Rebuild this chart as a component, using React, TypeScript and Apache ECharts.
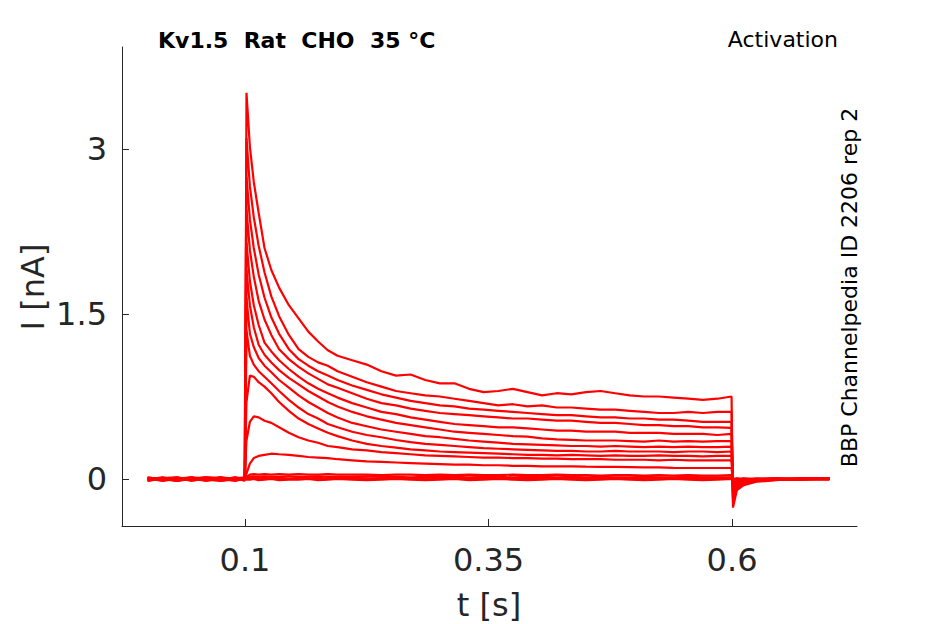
import React, { useEffect, useRef } from "react";
import * as echarts from "echarts";

// time grid [s]: pre-pulse, step (0.1-0.6 s), tail
const times = [
  0, 0.015, 0.03, 0.045, 0.06, 0.075, 0.09, 0.0995,
  0.1, 0.1015, 0.105, 0.109, 0.114, 0.12, 0.127, 0.135, 0.145, 0.155, 0.165, 0.175, 0.185, 0.195, 0.21, 0.225, 0.24, 0.255, 0.27, 0.285,
  0.3, 0.315, 0.33, 0.345, 0.36, 0.375, 0.39, 0.405, 0.42, 0.435, 0.45, 0.465, 0.48, 0.495, 0.51, 0.525, 0.54, 0.555, 0.57, 0.585, 0.5995,
  0.601, 0.605, 0.612, 0.625, 0.645, 0.67, 0.7,
];

// currents [nA]
const traceA = [
  0.005, -0.015, 0.01, 0.0, -0.005, 0.016, -0.008, 0.004,
  0.01, 3.51, 3.02, 2.7, 2.42, 2.1, 1.9, 1.74, 1.58, 1.46, 1.34, 1.25, 1.17, 1.12, 1.08, 1.04, 0.98, 0.94, 0.95, 0.9,
  0.87, 0.87, 0.82, 0.79, 0.8, 0.82, 0.79, 0.76, 0.78, 0.77, 0.79, 0.8, 0.78, 0.76, 0.75, 0.75, 0.74, 0.73, 0.72, 0.73, 0.75,
  -0.26, -0.1, -0.055, -0.025, -0.01, 0.004, 0.006,
];
const traceB = [
  -0.008, 0.006, -0.004, 0.016, -0.014, 0.002, 0.008, -0.006,
  0.01, 3.1, 2.66, 2.38, 2.12, 1.88, 1.66, 1.48, 1.31, 1.18, 1.11, 1.06, 1.03, 0.98, 0.93, 0.88, 0.84, 0.8, 0.78, 0.76,
  0.75, 0.73, 0.71, 0.69, 0.67, 0.68, 0.66, 0.67, 0.65, 0.65, 0.64, 0.63, 0.63, 0.62, 0.61, 0.6, 0.6, 0.61, 0.6, 0.61, 0.61,
  -0.21, -0.085, -0.045, -0.02, -0.006, -0.002, 0.004,
];
const traceC = [
  0.016, -0.004, 0.006, -0.014, 0.008, -0.006, 0.0, 0.01,
  0.01, 2.75, 2.36, 2.1, 1.86, 1.65, 1.47, 1.32, 1.18, 1.09, 1.03, 0.98, 0.94, 0.9, 0.85, 0.81, 0.77, 0.74, 0.71, 0.69,
  0.67, 0.66, 0.64, 0.63, 0.62, 0.61, 0.6, 0.59, 0.58, 0.58, 0.57, 0.56, 0.56, 0.55, 0.55, 0.54, 0.54, 0.53, 0.52, 0.52, 0.52,
  -0.18, -0.075, -0.04, -0.018, -0.004, 0.006, 0.0,
];
const traceD = [
  0.0, 0.01, -0.016, 0.004, 0.006, -0.008, 0.016, -0.002,
  0.01, 2.45, 2.08, 1.84, 1.62, 1.45, 1.31, 1.18, 1.09, 1.02, 0.96, 0.91, 0.86, 0.83, 0.78, 0.73, 0.69, 0.67, 0.64, 0.62,
  0.6, 0.59, 0.58, 0.57, 0.56, 0.55, 0.55, 0.54, 0.53, 0.53, 0.52, 0.51, 0.51, 0.5, 0.49, 0.49, 0.48, 0.48, 0.47, 0.47, 0.465,
  -0.16, -0.065, -0.035, -0.015, -0.008, 0.0, 0.008,
];
const traceE = [
  -0.016, 0.002, 0.008, -0.006, 0.0, 0.014, -0.01, 0.006,
  0.01, 2.15, 1.8, 1.58, 1.4, 1.24, 1.16, 1.08, 1.0, 0.93, 0.87, 0.82, 0.78, 0.74, 0.69, 0.65, 0.61, 0.59, 0.56, 0.54,
  0.52, 0.5, 0.49, 0.48, 0.47, 0.47, 0.46, 0.45, 0.44, 0.44, 0.43, 0.43, 0.43, 0.42, 0.42, 0.42, 0.41, 0.41, 0.41, 0.4, 0.41,
  -0.14, -0.055, -0.03, -0.012, 0.002, -0.004, 0.002,
];
const traceF = [
  0.006, -0.016, 0.0, 0.01, -0.004, -0.014, 0.004, 0.016,
  0.01, 1.9, 1.58, 1.38, 1.22, 1.13, 1.06, 0.99, 0.92, 0.86, 0.8, 0.75, 0.7, 0.66, 0.61, 0.57, 0.54, 0.51, 0.49, 0.47,
  0.45, 0.43, 0.42, 0.41, 0.4, 0.39, 0.385, 0.37, 0.36, 0.355, 0.35, 0.35, 0.35, 0.345, 0.34, 0.35, 0.34, 0.345, 0.34, 0.345, 0.345,
  -0.12, -0.05, -0.025, -0.01, -0.002, 0.004, -0.004,
];
const traceG = [
  -0.004, 0.016, -0.008, -0.002, 0.014, 0.004, -0.016, 0.0,
  0.01, 1.65, 1.32, 1.2, 1.1, 1.03, 0.97, 0.9, 0.83, 0.76, 0.7, 0.65, 0.6, 0.56, 0.51, 0.48, 0.45, 0.43, 0.41, 0.39,
  0.38, 0.365, 0.35, 0.34, 0.33, 0.32, 0.315, 0.31, 0.305, 0.3, 0.3, 0.295, 0.3, 0.295, 0.29, 0.295, 0.29, 0.295, 0.29, 0.29, 0.295,
  -0.1, -0.042, -0.02, -0.008, 0.004, -0.002, 0.006,
];
const traceH = [
  0.014, 0.0, -0.006, 0.008, -0.016, 0.006, 0.002, -0.01,
  0.01, 1.35, 1.12, 1.04, 0.98, 0.93, 0.87, 0.8, 0.72, 0.65, 0.59, 0.55, 0.5, 0.47, 0.43, 0.4, 0.38, 0.355, 0.335, 0.32,
  0.31, 0.3, 0.29, 0.28, 0.275, 0.27, 0.265, 0.26, 0.255, 0.255, 0.25, 0.25, 0.255, 0.25, 0.25, 0.25, 0.245, 0.25, 0.25, 0.245, 0.25,
  -0.085, -0.036, -0.018, -0.006, -0.004, 0.006, 0.0,
];
const traceI = [
  -0.002, -0.008, 0.016, -0.014, 0.004, -0.002, 0.01, 0.008,
  0.01, 0.7, 0.94, 0.93, 0.88, 0.84, 0.78, 0.7, 0.62, 0.55, 0.5, 0.46, 0.42, 0.39, 0.35, 0.32, 0.3, 0.285, 0.27, 0.26,
  0.25, 0.245, 0.24, 0.235, 0.23, 0.225, 0.22, 0.22, 0.215, 0.22, 0.215, 0.21, 0.215, 0.21, 0.21, 0.215, 0.21, 0.21, 0.205, 0.21, 0.21,
  -0.07, -0.03, -0.015, -0.004, 0.002, -0.006, 0.004,
];
const traceJ = [
  0.008, 0.004, -0.014, 0.006, 0.016, -0.014, -0.004, 0.002,
  0.0, 0.35, 0.52, 0.57, 0.56, 0.53, 0.51, 0.47, 0.42, 0.38, 0.35, 0.33, 0.3, 0.29, 0.27, 0.26, 0.245, 0.235, 0.225, 0.215,
  0.21, 0.205, 0.2, 0.195, 0.195, 0.19, 0.19, 0.185, 0.185, 0.18, 0.18, 0.18, 0.175, 0.175, 0.175, 0.17, 0.175, 0.17, 0.17, 0.17, 0.17,
  -0.055, -0.024, -0.01, 0.0, -0.004, 0.002, -0.002,
];
const traceK = [
  -0.014, 0.01, 0.004, -0.008, -0.002, 0.014, 0.006, -0.016,
  0.0, 0.05, 0.14, 0.19, 0.21, 0.22, 0.23, 0.225, 0.22, 0.21, 0.2, 0.195, 0.19, 0.18, 0.17, 0.16, 0.155, 0.15, 0.145, 0.14,
  0.135, 0.13, 0.13, 0.125, 0.125, 0.12, 0.12, 0.115, 0.115, 0.115, 0.112, 0.11, 0.11, 0.108, 0.105, 0.105, 0.102, 0.1, 0.1, 0.1, 0.1,
  -0.035, -0.015, -0.006, 0.002, 0.006, -0.002, 0.002,
];
const traceZ1 = [
  0.004, -0.006, -0.002, 0.016, 0.002, -0.004, -0.014, 0.006,
  0.0, 0.02, 0.04, 0.045, 0.04, 0.045, 0.04, 0.045, 0.04, 0.045, 0.04, 0.04, 0.045, 0.04, 0.04, 0.04, 0.035, 0.04, 0.04, 0.035,
  0.04, 0.035, 0.04, 0.035, 0.035, 0.04, 0.035, 0.035, 0.04, 0.035, 0.035, 0.03, 0.035, 0.035, 0.03, 0.035, 0.03, 0.035, 0.03, 0.03, 0.035,
  -0.01, 0.004, -0.002, 0.006, 0.0, 0.004, -0.004,
];
const traceZ2 = [
  -0.006, 0.008, 0.016, -0.004, -0.012, 0.0, 0.012, -0.004,
  0.0, 0.01, 0.02, 0.025, 0.02, 0.025, 0.02, 0.02, 0.025, 0.02, 0.02, 0.025, 0.02, 0.02, 0.02, 0.025, 0.02, 0.02, 0.015, 0.02,
  0.02, 0.02, 0.015, 0.02, 0.02, 0.015, 0.02, 0.02, 0.015, 0.02, 0.015, 0.02, 0.015, 0.015, 0.02, 0.015, 0.015, 0.02, 0.015, 0.015, 0.015,
  -0.006, -0.004, 0.006, -0.002, 0.004, -0.006, 0.002,
];
const traceZ3 = [
  0.002, -0.002, -0.016, 0.0, 0.016, 0.01, -0.006, 0.008,
  0.0, 0.005, 0.01, 0.01, 0.005, 0.01, 0.005, 0.01, 0.005, 0.01, 0.005, 0.01, 0.005, 0.005, 0.01, 0.005, 0.005, 0.01, 0.005, 0.005,
  0.01, 0.005, 0.005, 0.01, 0.005, 0.005, 0.0, 0.005, 0.005, 0.0, 0.005, 0.005, 0.0, 0.005, 0.005, 0.0, 0.005, 0.0, 0.005, 0.0, 0.005,
  0.002, 0.006, -0.004, 0.0, -0.006, 0.004, 0.006,
];
const traceZ4 = [
  -0.014, 0.004, 0.006, 0.014, -0.006, -0.014, 0.002, -0.008,
  0.0, -0.005, -0.005, 0.0, -0.01, -0.005, 0.0, -0.01, -0.005, -0.005, 0.0, -0.01, -0.005, 0.0, -0.005, -0.01, -0.005, 0.0, -0.005, -0.01,
  -0.005, 0.0, -0.01, -0.005, 0.0, -0.005, -0.01, -0.005, 0.0, -0.005, -0.01, -0.005, 0.0, -0.005, -0.01, -0.005, 0.0, -0.005, -0.01, -0.005, 0.0,
  -0.004, 0.0, 0.004, -0.006, 0.008, 0.0, -0.002,
];

const traces = [traceZ4, traceZ3, traceZ2, traceZ1, traceK, traceJ, traceI, traceH, traceG, traceF, traceE, traceD, traceC, traceB, traceA];

const xTicks = [0.1, 0.35, 0.6];
const xTickLabels = ["0.1", "0.35", "0.6"];
const yTicks = [0, 1.5, 3];
const yTickLabels = ["0", "1.5", "3"];

const titleText = "Kv1.5  Rat  CHO  35 °C";
const protocolText = "Activation";
const sourceText = "BBP Channelpedia ID 2206 rep 2";
const xName = "t [s]";
const yName = "I [nA]";

const FONT = "'DejaVu Sans', 'Liberation Sans', sans-serif";
const AXIS_COLOR = "#262626";

function pick(ticks: number[], labels: string[]) {
  return (v: number) => {
    const i = ticks.findIndex((t) => Math.abs(t - v) < 1e-9);
    return i >= 0 ? labels[i] : "";
  };
}

export default function App() {
  const ref = useRef<HTMLDivElement>(null);

  useEffect(() => {
    if (!ref.current) return;
    const chart = echarts.init(ref.current, null, { renderer: "svg" });
    chart.setOption({
      animation: false,
      backgroundColor: "#ffffff",
      grid: { left: 122, right: 88, top: 47, bottom: 98, containLabel: false },
      xAxis: {
        type: "value",
        min: -0.0263,
        max: 0.7283,
        axisLine: { show: true, onZero: false, lineStyle: { color: AXIS_COLOR, width: 1 } },
        axisTick: { show: true, inside: true, length: 7, customValues: xTicks, lineStyle: { color: AXIS_COLOR, width: 1 } },
        axisLabel: {
          customValues: xTicks,
          formatter: pick(xTicks, xTickLabels),
          fontSize: 32,
          fontFamily: FONT,
          color: AXIS_COLOR,
          margin: 18,
        },
        splitLine: { show: false },
      },
      yAxis: {
        type: "value",
        min: -0.427,
        max: 3.927,
        axisLine: { show: true, onZero: false, lineStyle: { color: AXIS_COLOR, width: 1 } },
        axisTick: { show: true, inside: true, length: 7, customValues: yTicks, lineStyle: { color: AXIS_COLOR, width: 1 } },
        axisLabel: {
          customValues: yTicks,
          formatter: pick(yTicks, yTickLabels),
          fontSize: 32,
          fontFamily: FONT,
          color: AXIS_COLOR,
          margin: 15,
        },
        splitLine: { show: false },
      },
      series: traces.map((tr, k) => ({
        type: "line",
        name: "trace" + k,
        data: times.map((t, i) => [t, tr[i]]),
        showSymbol: false,
        symbol: "none",
        silent: true,
        lineStyle: { color: "#ff0000", width: 2.2 },
        emphasis: { disabled: true },
      })),
      graphic: [
        {
          type: "text",
          x: 158,
          y: 40,
          style: {
            text: titleText,
            fontSize: 22,
            fontWeight: "bold",
            fontFamily: FONT,
            fill: "#000000",
            align: "left",
            verticalAlign: "middle",
          },
        },
        {
          type: "text",
          x: 838,
          y: 39,
          style: {
            text: protocolText,
            fontSize: 22,
            fontFamily: FONT,
            fill: "#000000",
            align: "right",
            verticalAlign: "middle",
          },
        },
        {
          type: "text",
          x: 849,
          y: 287.5,
          rotation: Math.PI / 2,
          style: {
            text: sourceText,
            fontSize: 22,
            fontFamily: FONT,
            fill: "#000000",
            align: "center",
            verticalAlign: "middle",
          },
        },
        {
          type: "text",
          x: 33,
          y: 287,
          rotation: Math.PI / 2,
          style: {
            text: yName,
            fontSize: 32,
            fontFamily: FONT,
            fill: AXIS_COLOR,
            align: "center",
            verticalAlign: "middle",
          },
        },
        {
          type: "text",
          x: 489,
          y: 605,
          style: {
            text: xName,
            fontSize: 32,
            fontFamily: FONT,
            fill: AXIS_COLOR,
            align: "center",
            verticalAlign: "middle",
          },
        },
      ],
    });
    return () => chart.dispose();
  }, []);

  return <div ref={ref} style={{ position: "absolute", left: 0, top: 0, width: 945, height: 624 }} />;
}
